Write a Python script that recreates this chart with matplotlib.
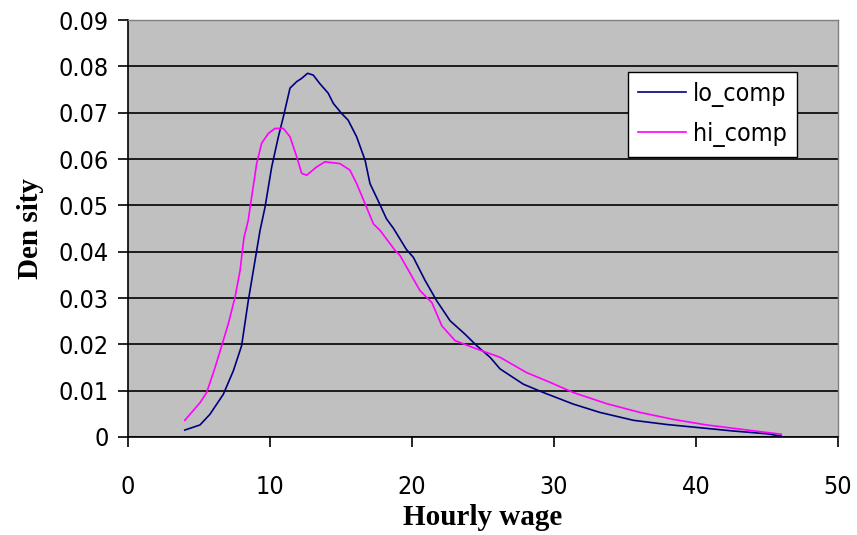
import matplotlib
matplotlib.use("Agg")
import matplotlib.pyplot as plt
from matplotlib.font_manager import FontProperties

lo_x = [4.0, 5.07, 5.77, 6.71, 7.42, 8.0, 8.47, 8.94, 9.3, 9.65, 10.12, 10.59, 10.94, 11.41,
        11.88, 12.23, 12.65, 13.05, 13.5, 14.1, 14.46, 15.05, 15.5, 16.1, 16.7, 17.04, 17.6,
        18.2, 18.7, 19.6, 20.09, 20.92, 21.74, 22.68, 23.73, 24.56, 25.5, 26.2, 27.84, 29.25,
        31.36, 33.24, 35.6, 37.94, 40.28, 42.6, 44.98, 46.0]
lo_y = [0.0015, 0.0026, 0.0049, 0.0092, 0.0143, 0.0197, 0.0294, 0.038, 0.0446, 0.0496, 0.0583,
        0.0648, 0.0691, 0.0753, 0.0767, 0.0774, 0.0785, 0.0781, 0.0763, 0.0742, 0.072, 0.0698,
        0.0684, 0.0648, 0.0597, 0.0547, 0.0511, 0.0471, 0.045, 0.0405, 0.0388, 0.0338, 0.0294,
        0.0251, 0.0222, 0.0197, 0.0172, 0.0147, 0.0114, 0.0096, 0.0071, 0.0053, 0.0036, 0.0027,
        0.002, 0.0013, 0.0007, 0.0002]

hi_x = [4.0, 5.07, 5.54, 6.13, 6.6, 7.06, 7.54, 7.89, 8.17, 8.47, 8.6, 9.06, 9.41, 9.88, 10.35,
        10.94, 11.41, 11.88, 12.23, 12.58, 13.29, 13.87, 14.93, 15.63, 16.1, 16.69, 17.28, 17.75,
        18.8, 19.15, 20.56, 21.4, 22.1, 23.03, 24.56, 26.2, 28.07, 29.72, 31.36, 33.7, 36.06,
        38.4, 40.75, 43.1, 46.0]
hi_y = [0.0036, 0.0074, 0.0096, 0.015, 0.0197, 0.0244, 0.0302, 0.0359, 0.0431, 0.0468, 0.0496,
        0.059, 0.0634, 0.0655, 0.0666, 0.0666, 0.0648, 0.0605, 0.0569, 0.0565, 0.0583, 0.0594,
        0.059, 0.0576, 0.0547, 0.0504, 0.046, 0.0446, 0.0403, 0.0392, 0.0316, 0.029, 0.024,
        0.0208, 0.019, 0.0172, 0.0139, 0.0118, 0.0096, 0.0072, 0.0053, 0.0038, 0.0026, 0.0017,
        0.0006]

x_ticks = [0, 10, 20, 30, 40, 50]
y_ticks = [0, 0.01, 0.02, 0.03, 0.04, 0.05, 0.06, 0.07, 0.08, 0.09]
y_tick_labels = ["0", "0.01", "0.02", "0.03", "0.04", "0.05", "0.06", "0.07", "0.08", "0.09"]

fig = plt.figure(figsize=(8.57, 5.35), dpi=100)
ax = fig.add_axes([128/857, 98/535, 710/857, 417/535])
ax.set_facecolor("#C0C0C0")

ax.plot(lo_x, lo_y, color="#000080", lw=1.2, label="lo_comp", zorder=3)
ax.plot(hi_x, hi_y, color="#FF00FF", lw=1.2, label="hi_comp", zorder=3)

ax.set_xlim(0, 50)
ax.set_ylim(0, 0.09)
ax.set_xticks(x_ticks)
ax.set_yticks(y_ticks)
ax.set_yticklabels(y_tick_labels)
ax.grid(axis="y", color="black", lw=1.2, zorder=1)
ax.set_axisbelow(True)

tick_fp = FontProperties(family="DejaVu Sans", stretch="condensed", size=18)
for lab in ax.get_xticklabels() + ax.get_yticklabels():
    lab.set_fontproperties(tick_fp)
ax.tick_params(axis="both", direction="out", length=7, width=1.2, color="black")
ax.tick_params(axis="x", pad=20)
ax.tick_params(axis="y", pad=7)

for s in ["left", "bottom"]:
    ax.spines[s].set_color("black")
    ax.spines[s].set_linewidth(1.2)
for s in ["top", "right"]:
    ax.spines[s].set_color("#808080")
    ax.spines[s].set_linewidth(1.0)

lab_font = dict(family=["Liberation Serif", "DejaVu Serif"], size=21, weight="bold")
ax.set_xlabel("Hourly wage", fontdict=lab_font, labelpad=4)
ax.set_ylabel("Den sity", fontdict=lab_font, labelpad=10)

leg_fp = FontProperties(family="DejaVu Sans", stretch="condensed", size=18)
leg = ax.legend(loc="upper left", bbox_to_anchor=((628-128)/710, (437-72)/417),
                frameon=True, fancybox=False, edgecolor="black", facecolor="white",
                framealpha=1, borderpad=0.4, handlelength=1.9, handletextpad=0.3,
                labelspacing=0.6, borderaxespad=0, prop=leg_fp)
leg.get_frame().set_linewidth(1.0)

fig.savefig("out.png", dpi=100)
